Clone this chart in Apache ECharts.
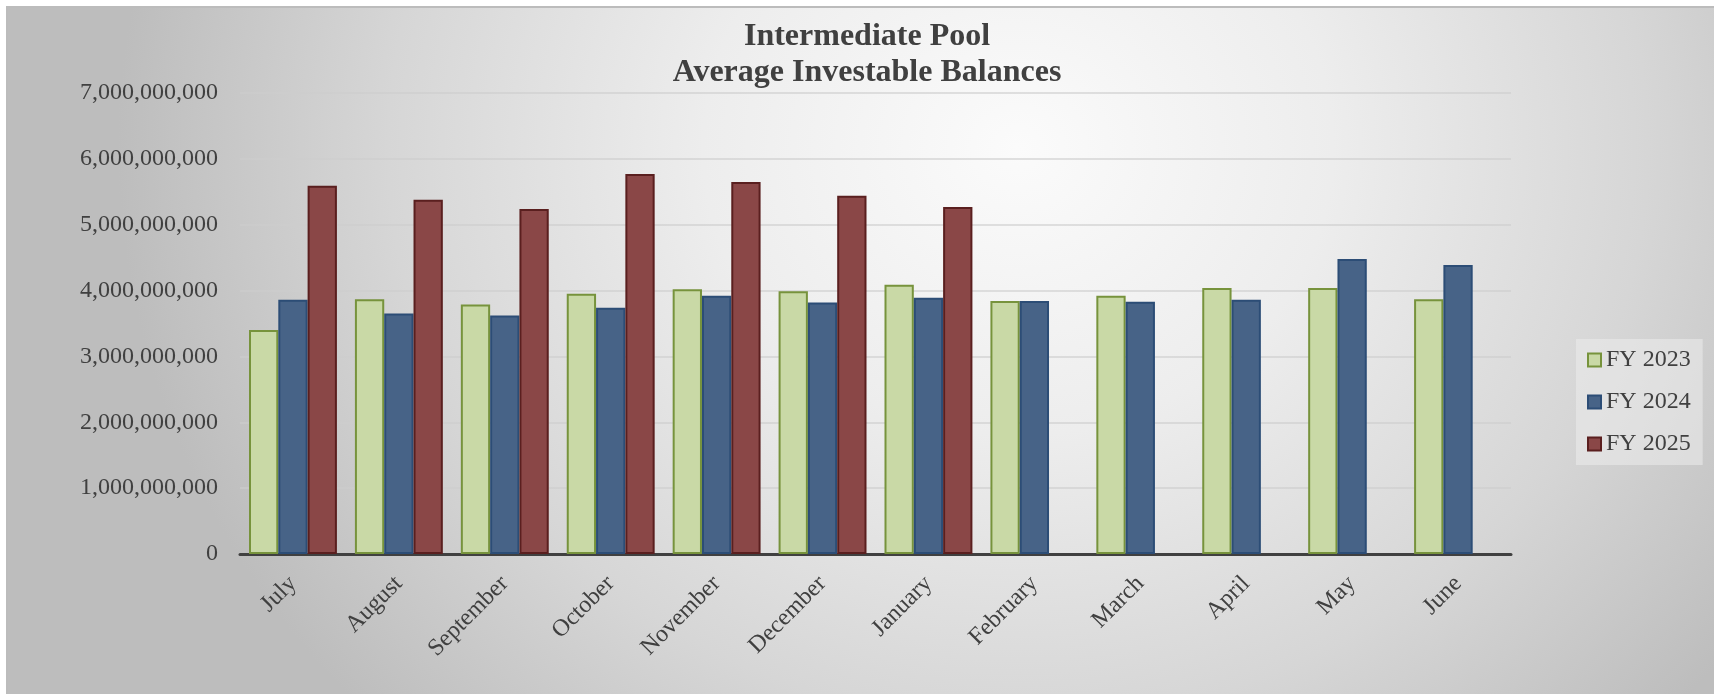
<!DOCTYPE html>
<html>
<head>
<meta charset="utf-8">
<script src="https://cdn.jsdelivr.net/npm/echarts@6/dist/echarts.min.js"></script>
<style>
  html, body { margin: 0; padding: 0; background: #ffffff; width: 1714px; height: 694px; overflow: hidden; }
  #frame {
    position: absolute; left: 6px; top: 6px; width: 1708px; height: 688px;
    border-top: 2px solid #bcbcbc; border-left: 2px solid #bcbcbc; box-sizing: border-box;
    background: radial-gradient(ellipse 900px 820px at 1010px 140px, #fbfbfb 0%, #ededed 35%, #d6d6d6 70%, #bdbdbd 100%);
  }
  #chart { position: absolute; left: 0; top: 0; width: 1714px; height: 694px; }
</style>
</head>
<body>
<div id="frame"></div>
<div id="chart"></div>
<script>
const titleLines = ['Intermediate Pool', 'Average Investable Balances'];
const months = ['July', 'August', 'September', 'October', 'November', 'December',
                'January', 'February', 'March', 'April', 'May', 'June'];
const seriesNames = ['FY 2023', 'FY 2024', 'FY 2025'];
const fy2023 = [3400000000, 3870000000, 3790000000, 3950000000, 4020000000, 3990000000,
                4090000000, 3840000000, 3920000000, 4040000000, 4040000000, 3870000000];
const fy2024 = [3860000000, 3650000000, 3620000000, 3740000000, 3920000000, 3820000000,
                3890000000, 3840000000, 3830000000, 3860000000, 4480000000, 4390000000];
const fy2025 = [5590000000, 5380000000, 5240000000, 5770000000, 5650000000, 5440000000,
                5270000000, null, null, null, null, null];
const yTicks = { min: 0, max: 7000000000, interval: 1000000000 };

const FONT = "'Liberation Serif', 'Times New Roman', serif";
const TXT = '#404040';
const styles = [
  { color: '#c9d9a6', borderColor: '#77933c' },
  { color: '#476387', borderColor: '#2c4d76' },
  { color: '#8a4747', borderColor: '#5a1f1f' }
];
const values = [fy2023, fy2024, fy2025];

const chart = echarts.init(document.getElementById('chart'), null, { renderer: 'canvas' });
chart.setOption({
  backgroundColor: 'transparent',
  animation: false,
  graphic: titleLines.map((t, i) => ({
    type: 'text', x: 867, y: 37 + i * 36,
    style: { text: t, fill: TXT, font: `bold 32px ${FONT}`, textAlign: 'center', textVerticalAlign: 'middle' }
  })),
  grid: { left: 240, right: 203, top: 93, bottom: 140, containLabel: false },
  legend: {
    orient: 'vertical', left: 1576, top: 339,
    padding: [9, 12, 9, 11], itemGap: 18, itemWidth: 13, itemHeight: 13,
    backgroundColor: 'rgba(236,236,236,0.55)',
    textStyle: { fontFamily: FONT, fontSize: 24, color: TXT, padding: [0, 0, 0, 0], lineHeight: 24 },
    data: seriesNames.map((n, i) => ({ name: n, icon: 'rect',
      itemStyle: { color: styles[i].color, borderColor: styles[i].borderColor, borderWidth: 2 } }))
  },
  xAxis: {
    type: 'category', data: months,
    axisTick: { show: false },
    axisLine: { lineStyle: { color: '#404040', width: 3 } },
    axisLabel: { rotate: 45, interval: 0, margin: 26, fontFamily: FONT, fontSize: 24, color: TXT }
  },
  yAxis: {
    type: 'value', min: yTicks.min, max: yTicks.max, interval: yTicks.interval,
    axisLine: { show: false }, axisTick: { show: false },
    splitLine: { lineStyle: { color: 'rgba(205,205,205,0.6)', width: 2 } },
    axisLabel: { margin: 22, fontFamily: FONT, fontSize: 24, color: TXT,
      formatter: v => v.toLocaleString('en-US') }
  },
  series: seriesNames.map((n, i) => ({
    name: n, type: 'bar', data: values[i],
    barGap: '0%', barCategoryGap: '17%',
    itemStyle: { color: styles[i].color, borderColor: styles[i].borderColor, borderWidth: 2 }
  }))
});
</script>
</body>
</html>
